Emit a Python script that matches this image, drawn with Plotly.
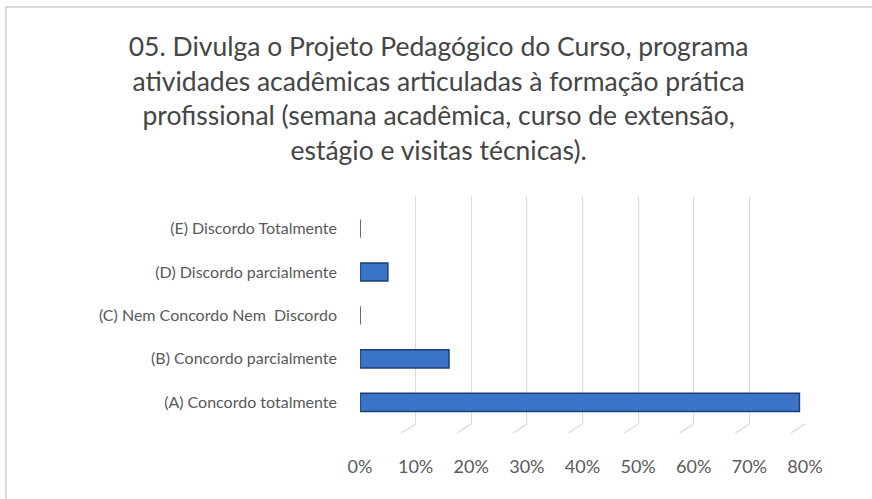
import plotly.graph_objects as go

categories = ["(A) Concordo totalmente", "(B) Concordo parcialmente",
              "(C) Nem Concordo Nem  Discordo", "(D) Discordo parcialmente",
              "(E) Discordo Totalmente"]
values = [0.79, 0.16, 0.0, 0.05, 0.0]
tick_vals = [0, 0.1, 0.2, 0.3, 0.4, 0.5, 0.6, 0.7, 0.8]
tick_text = ["0%", "10%", "20%", "30%", "40%", "50%", "60%", "70%", "80%"]
title_text = ("05. Divulga o Projeto Pedagógico do Curso, programa<br>"
              "atividades acadêmicas articuladas à formação prática<br>"
              "profissional (semana acadêmica, curso de extensão,<br>"
              "estágio e visitas técnicas).")

fig = go.Figure()
fig.add_trace(go.Bar(
    x=values, y=categories, orientation="h", width=0.42,
    marker=dict(color="#3b74c6", line=dict(color="#1d3f73", width=1.5)),
    hoverinfo="x+y",
))

shapes = []
# 3D-ish floor lines under each gridline
for t in tick_vals:
    shapes.append(dict(type="line", xref="x", yref="y domain",
                       xsizemode="pixel", ysizemode="pixel",
                       xanchor=t, yanchor=0, x0=0, x1=-14, y0=0, y1=-9,
                       line=dict(color="#d9d9d9", width=1.2), layer="below"))
# chart border
shapes.append(dict(type="rect", xref="paper", yref="paper",
                   x0=-0.796, x1=1.3, y0=-0.6, y1=1.829,
                   line=dict(color="#d9d9d9", width=2), layer="below"))

fig.update_layout(
    width=872, height=499, autosize=False,
    margin=dict(l=360, r=67, t=196, b=75),
    paper_bgcolor="white", plot_bgcolor="white",
    showlegend=False,
    title=dict(text=title_text, x=0.503, xanchor="center", y=0.887, yanchor="top",
               font=dict(family="Lato", size=26.5, color="#454545")),
    xaxis=dict(range=[0, 0.8], tickvals=tick_vals, ticktext=tick_text,
               showgrid=True, gridcolor="#d9d9d9", gridwidth=1.2,
               zeroline=False, showline=False, ticks="",
               ticklabelstandoff=30,
               tickfont=dict(family="Lato", size=18, color="#595959")),
    yaxis=dict(showgrid=False, zeroline=False, showline=False,
               range=[-0.5, 4.75],
               categoryorder="array", categoryarray=categories,
               ticks="", ticklabelstandoff=22,
               tickfont=dict(family="Lato", size=16, color="#595959")),
    shapes=shapes,
)

fig.write_html("out.html", config={"displayModeBar": False},
               post_script="document.body.style.margin='0';")
